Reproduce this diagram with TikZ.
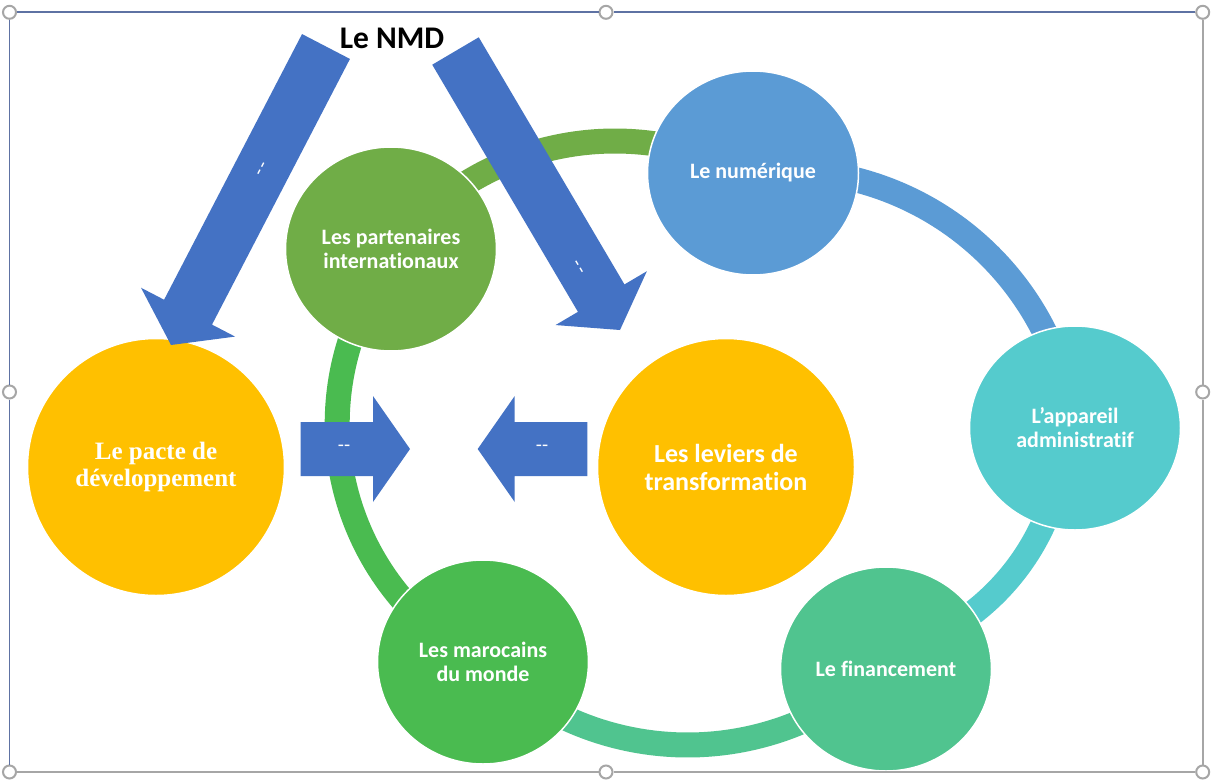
\documentclass[tikz,border=0pt]{standalone}
\usepackage{fontspec}
\newfontfamily\carlito[Ligatures=NoCommon]{Carlito}
\newfontfamily\libserif{Liberation Serif}
\usetikzlibrary{calc,shapes.geometric}
\definecolor{arrowblue}{HTML}{4472C4}
\definecolor{cyellow}{HTML}{FFC000}
\definecolor{cpart}{HTML}{70AD47}
\definecolor{cnum}{HTML}{5B9BD5}
\definecolor{capp}{HTML}{55CBCD}
\definecolor{cfin}{HTML}{50C48F}
\definecolor{cmar}{HTML}{4ABB50}
\definecolor{framegray}{HTML}{A6A6A6}
\definecolor{frameblue}{HTML}{5E72A3}
\newcommand{\blockarr}[2]{%
  \coordinate (#1-h) at ($(#2)!37pt!(#1)$);
  \fill[arrowblue] ($(#1)!27pt!90:(#2)$) -- ($(#1-h)!27pt!90:(#2)$) -- ($(#1-h)!53pt!90:(#2)$) -- (#2)
    -- ($(#1-h)!53pt!-90:(#2)$) -- ($(#1-h)!27pt!-90:(#2)$) -- ($(#1)!27pt!-90:(#2)$) -- cycle;
}
\begin{document}
\begin{tikzpicture}[x=1pt,y=-1pt,
  smallbub/.style={ellipse,minimum width=211pt,minimum height=204pt,inner sep=0pt,draw=white,line width=1.5pt},
  bigbub/.style={circle,minimum size=257pt,inner sep=0pt,draw=white,line width=1.5pt},
  smalltxt/.style={text=white,align=center,font=\carlito\bfseries\fontsize{22}{24}\selectfont},
  ringseg/.style={line width=25pt,line cap=butt},
  handle/.style={circle,minimum size=13pt,inner sep=0pt,draw=framegray,line width=2pt,fill=white},
  dashtxt/.style={text=white,font=\carlito\fontsize{20}{20}\selectfont,inner sep=0pt}]
\useasboundingbox (0,0) rectangle (1211,782);
\fill[white] (0,0) rectangle (1211,782);

% ring segments (arcs)
\draw[ringseg,cpart] plot[domain=-126:-72,samples=60,variable=\t] ({615+283*cos(\t)},{424+283*sin(\t)});
\draw[ringseg,cnum] plot[domain=-83:-15,samples=60,variable=\t] ({783.5+292*cos(\t)},{462.6+292*sin(\t)});
\draw[ringseg,capp] plot[domain=8:60,samples=60,variable=\t] ({828.6+236*cos(\t)},{426+236*sin(\t)});
\draw[ringseg,cfin] plot[domain=45:135,samples=60,variable=\t] ({687.6+289.8*cos(\t)},{455.2+289.8*sin(\t)});
\draw[ringseg,cmar] plot[domain=130:205,samples=60,variable=\t] ({607.2+270*cos(\t)},{423.7+270*sin(\t)});

% bubbles
\node[smallbub,fill=cpart] (part) at (391,249) {};
\node[smallbub,fill=cnum] (num) at (753,173) {};
\node[smallbub,fill=capp] (app) at (1075,428) {};
\node[smallbub,fill=cfin] (fin) at (886,669) {};
\node[smallbub,fill=cmar] (mar) at (483,662) {};
\node[bigbub,fill=cyellow] (pacte) at (156,467) {};
\node[bigbub,fill=cyellow] (lev) at (726,467) {};

% texts
\node[smalltxt] (partt) at (part) {Les partenaires\\internationaux};
\node[smalltxt] (numt) at (num) {Le numérique};
\node[smalltxt] (appt) at (app) {L’appareil\\administratif};
\node[smalltxt] (fint) at (fin) {Le financement};
\node[smalltxt] (mart) at (mar) {Les marocains\\du monde};
\node[text=white,align=center,font=\libserif\bfseries\fontsize{25}{27}\selectfont] (pactet) at (pacte) {Le pacte de\\développement};
\node[text=white,align=center,font=\carlito\bfseries\fontsize{26}{28}\selectfont] (levt) at (lev) {Les leviers de\\transformation};

% block arrows
\coordinate (a1s) at (326,46.5);
\coordinate (a1t) at (171,345);
\coordinate (a2s) at (455.5,51);
\coordinate (a2t) at (620,330);
\coordinate (a3s) at (300.7,449);
\coordinate (a3t) at (410,449);
\coordinate (a4s) at (587.3,449);
\coordinate (a4t) at (477.7,449);
\blockarr{a1s}{a1t}
\blockarr{a2s}{a2t}
\blockarr{a3s}{a3t}
\blockarr{a4s}{a4t}
\node[dashtxt,rotate=62.6] (d1) at (263,170) {-\kern2pt-};
\node[dashtxt,rotate=-59.5] (d2) at (577,268) {-\kern2pt-};
\node[dashtxt] (d3) at (344,448) {-{}-};
\node[dashtxt] (d4) at (542,448) {-{}-};

% title
\node[anchor=base,font=\carlito\bfseries\fontsize{31.5}{32}\selectfont,inner sep=0pt] (nmd) at (392,48) {Le NMD};

% frame with handles
\node[handle] (htl) at (9.5,12.3) {};
\node[handle] (htm) at (606,12.3) {};
\node[handle] (htr) at (1202.7,12.3) {};
\node[handle] (hml) at (9.5,392) {};
\node[handle] (hmr) at (1202.7,392) {};
\node[handle] (hbl) at (9.5,772) {};
\node[handle] (hbm) at (606,772) {};
\node[handle] (hbr) at (1202.7,772) {};
\draw[frameblue,line width=2pt] (htl) -- (htm) (htm) -- (htr);
\draw[frameblue,line width=1.5pt] (htl) -- (hml) (hml) -- (hbl);
\draw[framegray,line width=2pt] (htr) -- (hmr) (hmr) -- (hbr);
\draw[framegray,line width=2pt] (hbl) -- (hbm) (hbm) -- (hbr);
\end{tikzpicture}
\end{document}
